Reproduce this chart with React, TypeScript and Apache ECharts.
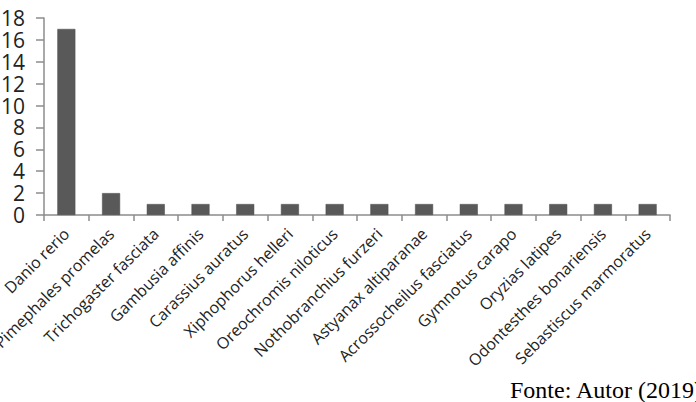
import React, { useEffect, useRef } from "react";
import * as echarts from "echarts";

const categories = [
  "Danio rerio",
  "Pimephales promelas",
  "Trichogaster fasciata",
  "Gambusia affinis",
  "Carassius auratus",
  "Xiphophorus helleri",
  "Oreochromis niloticus",
  "Nothobranchius furzeri",
  "Astyanax altiparanae",
  "Acrossocheilus fasciatus",
  "Gymnotus carapo",
  "Oryzias latipes",
  "Odontesthes bonariensis",
  "Sebastiscus marmoratus",
];
const values = [17, 2, 1, 1, 1, 1, 1, 1, 1, 1, 1, 1, 1, 1];
const sourceText = "Fonte: Autor (2019)";

export default function App() {
  const ref = useRef<HTMLDivElement>(null);
  useEffect(() => {
    if (!ref.current) return;
    const chart = echarts.init(ref.current, undefined, { renderer: "svg" });
    chart.setOption({
      animation: false,
      backgroundColor: "#ffffff",
      grid: {
        left: 44,
        right: 26,
        top: 18,
        bottom: 187,
        containLabel: false,
        outerBoundsMode: "none",
      },
      xAxis: {
        type: "category",
        data: categories,
        axisLine: { lineStyle: { color: "#8c8c8c", width: 1.5 } },
        axisTick: { show: true, length: 6, alignWithLabel: false, lineStyle: { color: "#8c8c8c", width: 1.5 } },
        axisLabel: {
          rotate: 45,
          interval: 0,
          margin: 16,
          fontFamily: "Open Sans",
          fontSize: 16,
          color: "#222",
        },
      },
      yAxis: {
        type: "value",
        min: 0,
        max: 18,
        interval: 2,
        splitLine: { show: false },
        axisLine: { show: true, lineStyle: { color: "#8c8c8c", width: 1.5 } },
        axisTick: { show: true, length: 8, lineStyle: { color: "#8c8c8c", width: 1.5 } },
        axisLabel: {
          margin: 19,
          fontFamily: "Open Sans",
          fontSize: 21,
          lineHeight: 20,
          color: "#222",
        },
      },
      series: [
        {
          type: "bar",
          data: values,
          barWidth: 18,
          itemStyle: { color: "#595959", borderColor: "#4a4a4a", borderWidth: 0.5 },
        },
      ],
      graphic: [
        {
          type: "text",
          left: 510,
          top: 378,
          style: {
            text: sourceText,
            font: "24px 'Liberation Serif'",
            fill: "#000",
          },
        },
      ],
    });
    return () => chart.dispose();
  }, []);
  return (
    <div
      ref={ref}
      style={{ position: "fixed", left: 0, top: 0, width: 696, height: 402 }}
    />
  );
}
